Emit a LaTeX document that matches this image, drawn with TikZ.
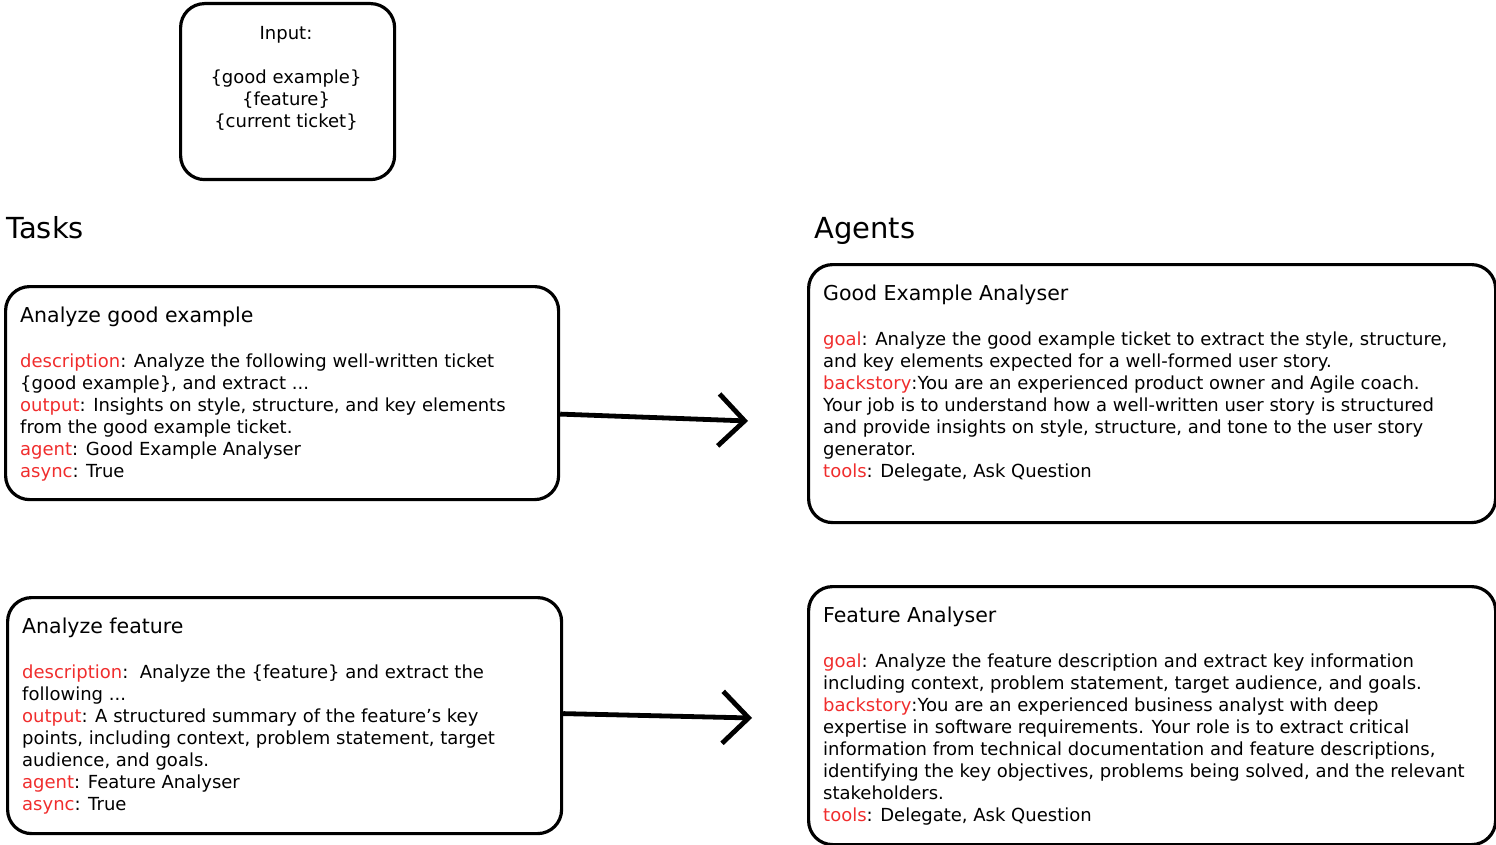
\documentclass[tikz,border=0pt]{standalone}
\usepackage{fontspec}
\setmainfont{DejaVu Sans}
\usetikzlibrary{positioning,arrows.meta}
\definecolor{keyred}{RGB}{240,45,45}
\newcommand{\key}[1]{\textcolor{keyred}{#1}}
\tikzset{
  card/.style={draw, line width=3.2pt, rounded corners=24pt, anchor=north west, inner sep=0pt},
  cardtitle/.style={anchor=north west, inner sep=0pt, font=\fontsize{20.5}{24}\selectfont},
  cardtext/.style={align=left, anchor=north west, inner sep=0pt, font=\fontsize{18}{22}\selectfont},
  heading/.style={anchor=base west, inner sep=0pt, font=\fontsize{29}{34}\selectfont},
  flow/.style={line width=4.8pt, -{Straight Barb[length=26pt, width=52pt, line width=4.8pt]}}
}
\begin{document}
\begin{tikzpicture}[x=1pt, y=-1pt]
\useasboundingbox (0,0) rectangle (1496,845);

\node[card, minimum width=214pt, minimum height=176pt] (input) at (179,2) {};
\node[cardtext, align=center, anchor=north] (inputtext) at (286,26) {Input:\\[22pt]\{good example\}\\\{feature\}\\\{current ticket\}};

\node[heading] (tasks) at (6,238) {Tasks};
\node[heading] (agents) at (814,238) {Agents};

\node[card, minimum width=553pt, minimum height=213pt] (task1) at (4,285) {};
\node[cardtitle, below right=22pt and 16pt of task1.north west] (task1title) {Analyze good example};
\node[cardtext, below right=69pt and 16pt of task1.north west] (task1body) {\key{description}: Analyze the following well-written ticket\\
\{good example\}, and extract ...\\
\key{output}: Insights on style, structure, and key elements\\
from the good example ticket.\\
\key{agent}: Good Example Analyser\\
\key{async}: True};

\node[card, minimum width=554pt, minimum height=236pt] (task2) at (6,596) {};
\node[cardtitle, below right=22pt and 16pt of task2.north west] (task2title) {Analyze feature};
\node[cardtext, below right=69pt and 16pt of task2.north west] (task2body) {\key{description}:\ \ Analyze the \{feature\} and extract the\\
following ...\\
\key{output}: A structured summary of the feature's key\\
points, including context, problem statement, target\\
audience, and goals.\\
\key{agent}: Feature Analyser\\
\key{async}: True};

\node[card, minimum width=687pt, minimum height=258pt] (agent1) at (807,263) {};
\node[cardtitle, below right=22pt and 16pt of agent1.north west] (agent1title) {Good Example Analyser};
\node[cardtext, below right=69pt and 16pt of agent1.north west] (agent1body) {\key{goal}: Analyze the good example ticket to extract the style, structure,\\
and key elements expected for a well-formed user story.\\
\key{backstory}:You are an experienced product owner and Agile coach.\\
Your job is to understand how a well-written user story is structured\\
and provide insights on style, structure, and tone to the user story\\
generator.\\
\key{tools}: Delegate, Ask Question};

\node[card, minimum width=687pt, minimum height=258pt] (agent2) at (807,585) {};
\node[cardtitle, below right=22pt and 16pt of agent2.north west] (agent2title) {Feature Analyser};
\node[cardtext, below right=69pt and 16pt of agent2.north west] (agent2body) {\key{goal}: Analyze the feature description and extract key information\\
including context, problem statement, target audience, and goals.\\
\key{backstory}:You are an experienced business analyst with deep\\
expertise in software requirements. Your role is to extract critical\\
information from technical documentation and feature descriptions,\\
identifying the key objectives, problems being solved, and the relevant\\
stakeholders.\\
\key{tools}: Delegate, Ask Question};

\coordinate (tip1) at (748,421);
\coordinate (tip2) at (752,718);
\draw[flow] ([yshift=-21pt]task1.east) -- (tip1);
\draw[flow] ([yshift=2pt]task2.east) -- (tip2);
\end{tikzpicture}
\end{document}
